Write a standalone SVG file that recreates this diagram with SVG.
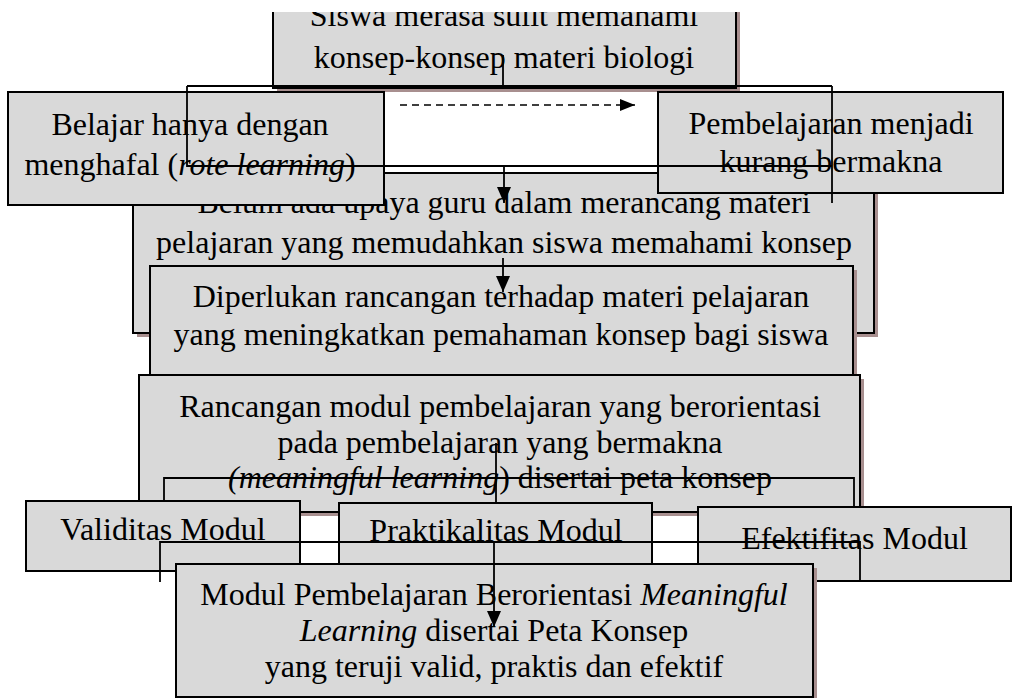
<svg xmlns="http://www.w3.org/2000/svg" width="1014" height="698" viewBox="0 0 1014 698">
<style>
  .box { fill: #d9d9d9; stroke: #000; stroke-width: 2; }
  .shadow { fill: #a88f8f; }
  .t { font-family: "Liberation Serif", "Times New Roman", serif; font-size: 32px; fill: #000; text-anchor: middle; }
  .i { font-style: italic; }
  .c { fill: none; stroke: #000; stroke-width: 1.8; }
  .d { fill: none; stroke: #000; stroke-width: 1.6; stroke-dasharray: 7 5; }
</style>
<defs>
  <clipPath id="topclip"><rect x="0" y="12" width="1014" height="686"/></clipPath>
  <marker id="ah" markerUnits="userSpaceOnUse" markerWidth="16" markerHeight="14" refX="16" refY="7" orient="auto">
    <path d="M0,0 L16,7 L0,14 z" fill="#000"/>
  </marker>
  <marker id="ahs" markerUnits="userSpaceOnUse" markerWidth="15" markerHeight="12" refX="15" refY="6" orient="auto">
    <path d="M0,0 L15,6 L0,12 z" fill="#000"/>
  </marker>
</defs>
<rect width="1014" height="698" fill="#fff"/>

<g id="node-siswa" clip-path="url(#topclip)">
  <rect class="shadow" x="277" y="-26" width="463" height="118"/>
  <rect class="box" x="273" y="-30" width="463" height="118"/>
  <text class="t" x="504" y="26">Siswa merasa sulit memahami</text>
  <text class="t" x="504" y="68">konsep-konsep materi biologi</text>
</g>

<g id="node-belum">
  <rect class="shadow" x="137" y="177" width="741" height="160"/>
  <rect class="box" x="133" y="173" width="741" height="160"/>
  <text class="t" x="504" y="213">Belum ada upaya guru dalam merancang materi</text>
  <text class="t" x="504" y="253">pelajaran yang memudahkan siswa memahami konsep</text>
</g>

<g id="node-belajar">
  <rect class="box" x="8" y="92" width="376" height="113"/>
  <text class="t" x="190" y="135">Belajar hanya dengan</text>
  <text class="t" x="190" y="175">menghafal (<tspan class="i">rote learning</tspan>)</text>
</g>

<g id="node-pembelajaran">
  <rect class="box" x="658" y="92" width="345" height="101"/>
  <text class="t" x="831" y="134">Pembelajaran menjadi</text>
  <text class="t" x="831" y="172">kurang bermakna</text>
</g>

<g id="node-diperlukan">
  <rect class="shadow" x="154" y="270" width="703" height="115"/>
  <rect class="box" x="150" y="266" width="703" height="115"/>
  <text class="t" x="501" y="307">Diperlukan rancangan terhadap materi pelajaran</text>
  <text class="t" x="501" y="345">yang meningkatkan pemahaman konsep bagi siswa</text>
</g>

<g id="node-rancangan">
  <rect class="shadow" x="143" y="379" width="721" height="137"/>
  <rect class="box" x="139" y="375" width="721" height="137"/>
  <text class="t" x="500" y="417">Rancangan modul pembelajaran yang berorientasi</text>
  <text class="t" x="500" y="453">pada pembelajaran yang bermakna</text>
  <text class="t" x="500" y="488"><tspan class="i">(meaningful learning</tspan>) disertai peta konsep</text>
</g>

<g id="node-validitas">
  <rect class="box" x="26" y="501" width="274" height="70"/>
  <text class="t" x="163" y="540">Validitas Modul</text>
</g>

<g id="node-praktikalitas">
  <rect class="box" x="339" y="503" width="313" height="68"/>
  <text class="t" x="496" y="541">Praktikalitas Modul</text>
</g>

<g id="node-efektifitas">
  <rect class="box" x="698" y="507" width="313" height="74"/>
  <text class="t" x="854.5" y="549">Efektifitas Modul</text>
</g>

<g id="node-modul">
  <rect class="shadow" x="180" y="568" width="637" height="133"/>
  <rect class="box" x="176" y="564" width="637" height="133"/>
  <text class="t" x="494" y="605">Modul Pembelajaran Berorientasi <tspan class="i">Meaningful</tspan></text>
  <text class="t" x="494" y="641"><tspan class="i">Learning</tspan> disertai Peta Konsep</text>
  <text class="t" x="494" y="677">yang teruji valid, praktis dan efektif</text>
</g>

<g id="connectors">
  <path class="c" d="M503,55 V86"/>
  <path class="c" d="M187,86 H832"/>
  <path class="c" d="M187,86 V166 H832"/>
  <path class="c" d="M832,86 V203"/>
  <path class="d" d="M400,105 H635" marker-end="url(#ahs)"/>
  <path class="c" d="M504,166 V203" marker-end="url(#ah)"/>
  <path class="c" d="M503,258 V292" marker-end="url(#ah)"/>
  <path class="c" d="M164,500 V478 H854 V506"/>
  <path class="c" d="M496,443 V503"/>
  <path class="c" d="M160,582 V542 H860 V582"/>
  <path class="c" d="M494,542 V627" marker-end="url(#ah)"/>
</g>
</svg>
